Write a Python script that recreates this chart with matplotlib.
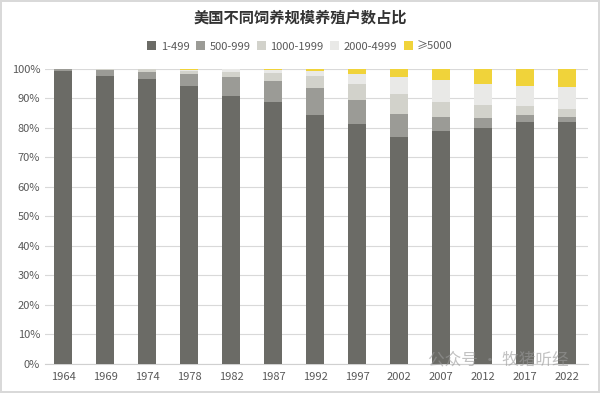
import matplotlib.pyplot as plt
import numpy as np

plt.rcParams['font.family'] = ['Noto Sans CJK SC', 'DejaVu Sans']

years = ['1964', '1969', '1974', '1978', '1982', '1987', '1992',
         '1997', '2002', '2007', '2012', '2017', '2022']
labels = ['1-499', '500-999', '1000-1999', '2000-4999', '≥5000']
s_1_499 = [99.1, 97.7, 96.5, 94.0, 90.9, 88.6, 84.3, 81.3, 77.0, 78.9, 80.0, 82.1, 81.9]
s_500_999 = [0.9, 2.0, 2.4, 4.2, 6.2, 7.3, 9.3, 8.2, 7.6, 4.7, 3.3, 2.3, 1.9]
s_1000_1999 = [0.0, 0.3, 0.9, 1.0, 1.9, 2.6, 4.0, 5.4, 6.9, 5.2, 4.3, 3.1, 2.5]
s_2000_4999 = [0.0, 0.0, 0.2, 0.5, 0.8, 1.1, 1.7, 3.4, 5.7, 7.4, 7.3, 6.7, 7.6]
s_5000 = [0.0, 0.0, 0.0, 0.3, 0.2, 0.4, 0.7, 1.7, 2.8, 3.8, 5.1, 5.8, 6.1]

series = [s_1_499, s_500_999, s_1000_1999, s_2000_4999, s_5000]
colors = ['#6b6b66', '#9b9b96', '#d2d2cb', '#e9e9e7', '#f0d33a']

fig = plt.figure(figsize=(6.0, 3.93), dpi=100)
fig.patch.set_edgecolor('#d9d9d9')
fig.patch.set_linewidth(1.5)
ax = fig.add_axes([0.075, 0.075, 0.905, 0.75])

x = np.arange(len(years))
bottom = np.zeros(len(years))
for vals, lab, c in zip(series, labels, colors):
    ax.bar(x, vals, width=0.44, bottom=bottom, color=c, label=lab, zorder=3)
    bottom += np.array(vals)

ax.set_ylim(0, 100)
ax.set_xlim(-0.43, len(years) - 0.5)
ax.set_yticks(np.arange(0, 101, 10))
ax.set_yticklabels([f'{v}%' for v in range(0, 101, 10)])
ax.set_xticks(x)
ax.set_xticklabels(years)
ax.tick_params(axis='both', length=0, labelsize=8, colors='#595959')
ax.tick_params(axis='x', pad=6)
ax.grid(axis='y', color='#d9d9d9', linewidth=0.8, zorder=0)
for side in ['top', 'right', 'left']:
    ax.spines[side].set_visible(False)
ax.spines['bottom'].set_color('#d0d0d0')

fig.suptitle('美国不同饲养规模养殖户数占比', y=0.975, fontsize=11,
             fontweight='bold', color='#333333')
fig.legend(loc='upper center', bbox_to_anchor=(0.5, 0.92), ncol=5, frameon=False,
           fontsize=8, handlelength=0.8, handleheight=0.8, handletextpad=0.4,
           columnspacing=0.6, labelcolor='#595959')

fig.text(0.83, 0.085, '公众号 · 牧猪听经', fontsize=12, color='#999999', alpha=0.6,
         ha='center', va='center', zorder=10)

fig.savefig('out.png')
